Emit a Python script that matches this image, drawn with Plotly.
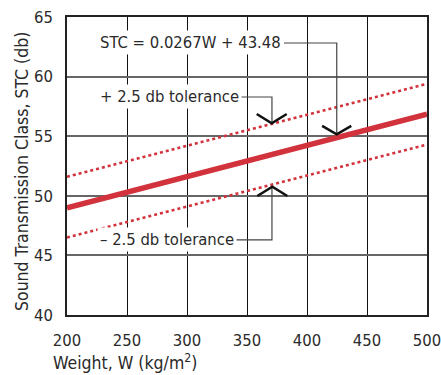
import plotly.graph_objects as go

weights = [200, 500]
stc_fit = [49.0, 56.85]
stc_upper = [51.6, 59.4]
stc_lower = [46.5, 54.3]

x_ticks = [200, 250, 300, 350, 400, 450, 500]
y_ticks = [40, 45, 50, 55, 60, 65]

FONT = "DejaVu Sans Condensed"
FS = 16.5
RED = "#d2323c"
TXT = "#2a2a2a"

fig = go.Figure()
fig.add_trace(go.Scatter(x=weights, y=stc_upper, mode="lines",
                         line=dict(color=RED, width=2.5, dash="dot"), hoverinfo="skip"))
fig.add_trace(go.Scatter(x=weights, y=stc_lower, mode="lines",
                         line=dict(color=RED, width=2.5, dash="dot"), hoverinfo="skip"))
fig.add_trace(go.Scatter(x=weights, y=stc_fit, mode="lines",
                         line=dict(color=RED, width=5.5), hoverinfo="skip"))

lead = dict(color="#444", width=1.2)
chev = dict(color="#111", width=2.5)
shapes = []
shapes.append(dict(type="path", path="M 380.8,62.82 L 424.8,62.82 L 424.8,55.2", line=lead, xref="x", yref="y"))
shapes.append(dict(type="path", path="M 340,58.29 L 370.8,58.29 L 370.8,56.1", line=lead, xref="x", yref="y"))
shapes.append(dict(type="path", path="M 340,46.3 L 370.8,46.3 L 370.8,50.74", line=lead, xref="x", yref="y"))
shapes.append(dict(type="path", path="M 358.1,56.86 L 370.6,56.08 L 383.1,56.86", line=chev, xref="x", yref="y"))
shapes.append(dict(type="path", path="M 412.6,55.86 L 424.75,55.16 L 436.9,55.86", line=chev, xref="x", yref="y"))
shapes.append(dict(type="path", path="M 358.6,49.98 L 371.1,50.76 L 383.6,49.98", line=chev, xref="x", yref="y"))

ann_font = dict(family=FONT, size=FS, color=TXT)
title_font = dict(family=FONT, size=17.5, color=TXT)
W, H, L, R, T, B = 441, 375, 67, 14, 17, 60
pw, ph = W - L - R, H - T - B

annotations = [
    dict(x=225, y=62.82, text="STC = 0.0267W + 43.48", showarrow=False, xanchor="left",
         yanchor="middle", bgcolor="white", font=ann_font, borderpad=2),
    dict(x=225, y=58.29, text="+ 2.5 db tolerance", showarrow=False, xanchor="left",
         yanchor="middle", bgcolor="white", font=ann_font, borderpad=2),
    dict(x=225, y=46.3, text="– 2.5 db tolerance", showarrow=False, xanchor="left",
         yanchor="middle", bgcolor="white", font=ann_font, borderpad=2),
    dict(xref="paper", yref="paper", x=(51 - L) / pw, y=(H - B - 362) / ph,
         text="Weight, W (kg/m<sup>2</sup>)", showarrow=False, xanchor="left",
         yanchor="middle", font=title_font),
    dict(xref="paper", yref="paper", x=(22 - L) / pw, y=(H - B - 172) / ph,
         text="Sound Transmission Class, STC (db)", textangle=-90,
         showarrow=False, xanchor="center", yanchor="middle", font=title_font),
]

axis_common = dict(showgrid=True, zeroline=False, showline=True, linecolor="#222",
                   linewidth=1.5, mirror=True, ticks="", automargin=False,
                   ticklabeloverflow="allow",
                   tickfont=dict(family=FONT, size=FS, color=TXT))

fig.update_layout(
    width=W, height=H, margin=dict(l=L, r=R, t=T, b=B, autoexpand=False),
    paper_bgcolor="white", plot_bgcolor="white", showlegend=False,
    shapes=shapes, annotations=annotations,
    font=dict(family=FONT, size=FS, color=TXT),
    xaxis=dict(range=[200, 500], tickvals=x_ticks, gridcolor="#111", gridwidth=1,
               ticklabelstandoff=9, **axis_common),
    yaxis=dict(range=[40, 65], tickvals=y_ticks, gridcolor="#666", gridwidth=1.5,
               ticklabelstandoff=9, **axis_common),
)

fig.write_html("out.html", config={"displayModeBar": False},
               post_script="document.body.style.margin='0';document.body.style.overflow='hidden';")
